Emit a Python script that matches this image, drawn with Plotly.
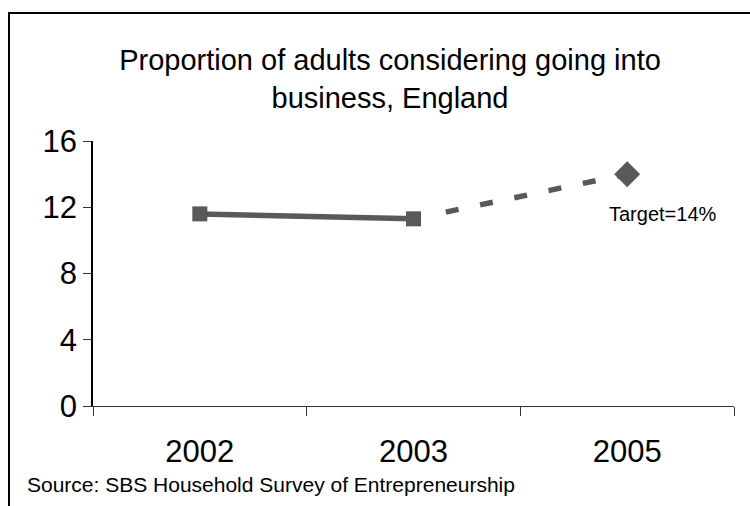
import plotly.graph_objects as go

# ---- data ----
years = ["2002", "2003", "2005"]
actual_years = ["2002", "2003"]
actual_values = [11.6, 11.3]
target_years = ["2003", "2005"]
target_values = [11.3, 14.0]
y_ticks = [0, 4, 8, 12, 16]
title_text = "Proportion of adults considering going into<br>business, England"
target_label = "Target=14%"
source_text = "Source: SBS Household Survey of Entrepreneurship"

W, H = 750, 506
L, R, T, B = 93, 16, 141, 100
pw, ph = W - L - R, H - T - B

def px_x(px):
    return (px - L) / pw

def px_y(py):
    return (H - B - py) / ph

grey = "#595959"
FONT = "Liberation Sans, Arial, sans-serif"

fig = go.Figure()

# dashed projection (drawn first, below markers)
dash_pattern = "0px,33px" + ",13px,22px" * 6
fig.add_trace(go.Scatter(
    x=target_years, y=target_values, mode="lines",
    line=dict(color=grey, width=5.5, dash=dash_pattern),
    hoverinfo="skip", showlegend=False,
))
# target diamond
fig.add_trace(go.Scatter(
    x=target_years[-1:], y=target_values[-1:], mode="markers",
    marker=dict(symbol="diamond", size=20, color=grey),
    showlegend=False,
))
# actual solid line
fig.add_trace(go.Scatter(
    x=actual_years, y=actual_values, mode="lines+markers",
    line=dict(color=grey, width=5.5),
    marker=dict(symbol="square", size=15, color=grey),
    showlegend=False,
))

fig.update_layout(
    width=W, height=H,
    margin=dict(l=L, r=R, t=T, b=B),
    paper_bgcolor="white", plot_bgcolor="white",
    font=dict(family=FONT, color="black"),
    title=dict(
        text=title_text, x=390 / W, xanchor="center",
        yref="container", y=1 - 70 / H, yanchor="top",
        font=dict(size=29, family=FONT, color="black"),
    ),
    xaxis=dict(
        type="category", categoryorder="array", categoryarray=years,
        range=[-0.5, 2.5], tickson="boundaries",
        showline=True, linecolor="#333333", linewidth=1,
        ticks="outside", ticklen=9, tickcolor="#333333", tickwidth=1,
        showgrid=False, zeroline=False,
        tickfont=dict(size=31, family=FONT, color="black"),
        ticklabelstandoff=18,
    ),
    yaxis=dict(
        range=[0, 16], tickvals=y_ticks,
        showline=True, linecolor="black", linewidth=1.5,
        ticks="outside", ticklen=8, tickcolor="#333333", tickwidth=1,
        showgrid=False, zeroline=False,
        tickfont=dict(size=31, family=FONT, color="black"),
    ),
    annotations=[
        dict(x=years.index(target_years[-1]), y=target_values[-1],
             xref="x", yref="y",
             text=target_label, showarrow=False,
             xanchor="left", yanchor="middle", xshift=-20, yshift=-40,
             font=dict(size=20, family=FONT, color="black")),
        dict(x=px_x(25), y=px_y(484), xref="paper", yref="paper",
             text=source_text, showarrow=False,
             xanchor="left", yanchor="middle",
             font=dict(size=21, family=FONT, color="black")),
    ],
    shapes=[
        dict(type="line", xref="paper", yref="paper",
             x0=px_x(9), y0=px_y(13), x1=px_x(752), y1=px_y(13),
             line=dict(color="black", width=2)),
        dict(type="line", xref="paper", yref="paper",
             x0=px_x(9), y0=px_y(12), x1=px_x(9), y1=px_y(508),
             line=dict(color="black", width=2)),
    ],
)

fig.write_html("out.html")
